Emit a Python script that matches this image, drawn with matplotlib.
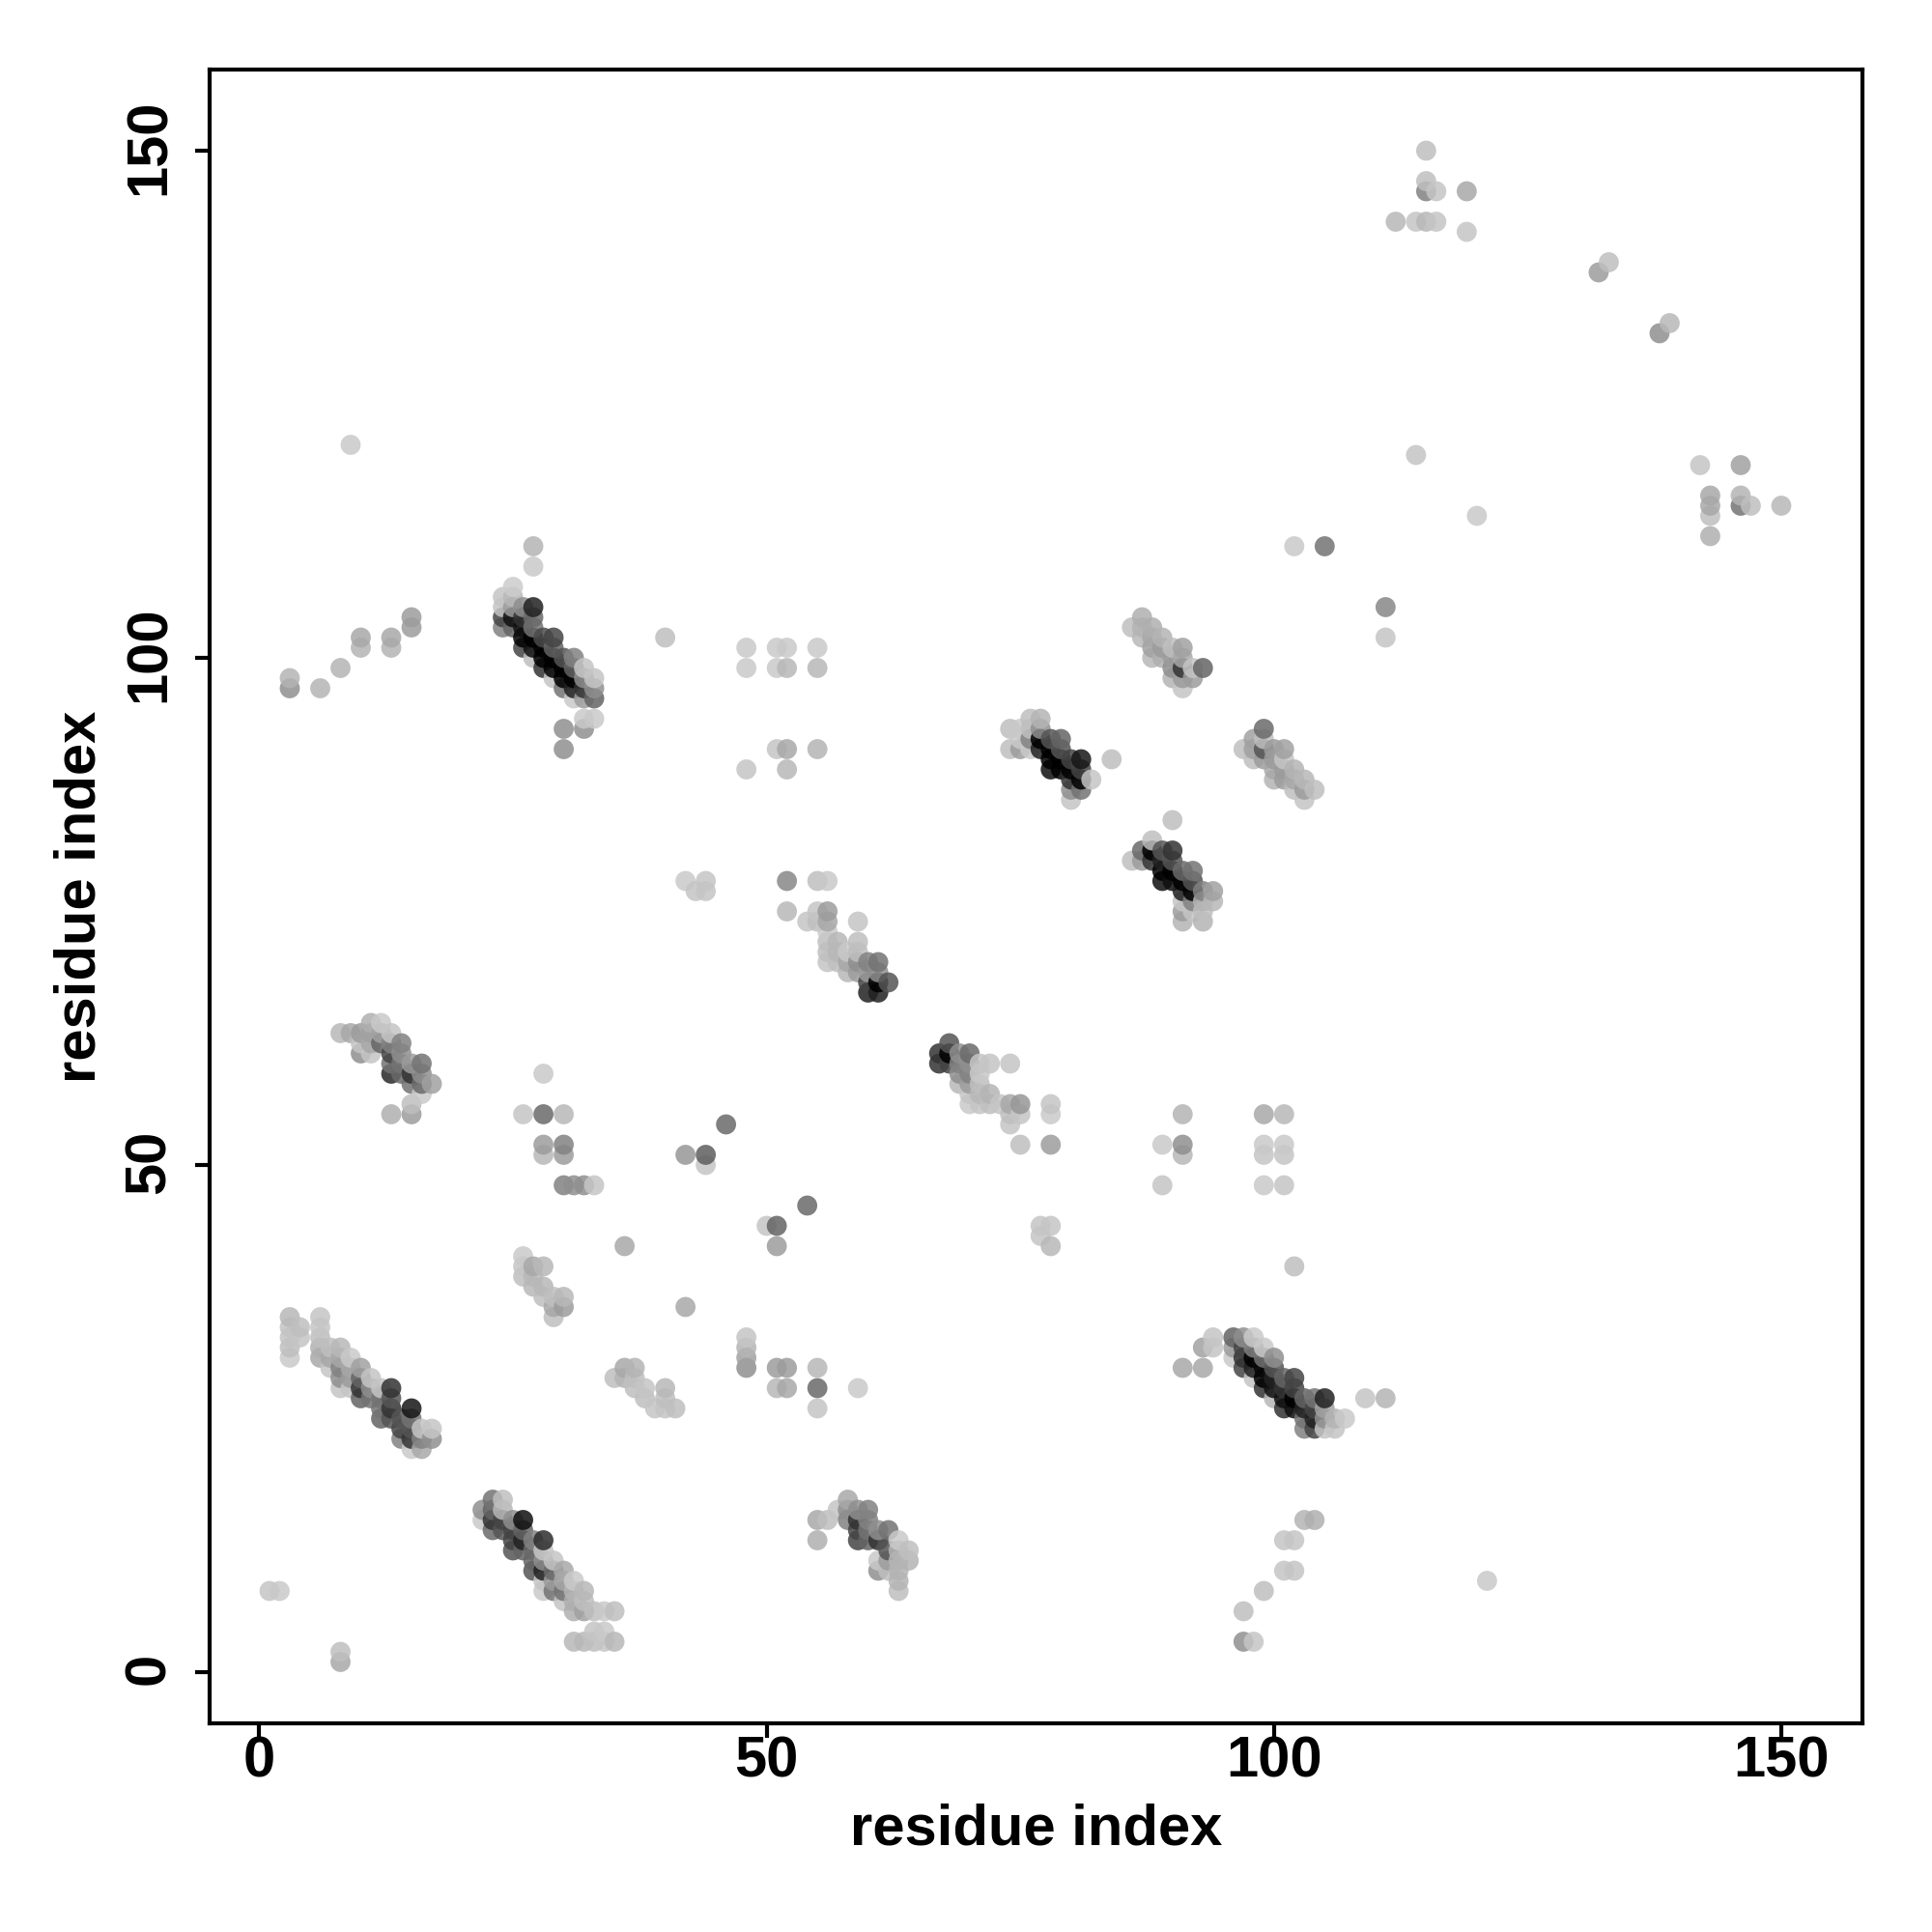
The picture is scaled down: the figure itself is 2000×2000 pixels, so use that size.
import numpy as np
import matplotlib
matplotlib.use('Agg')
import matplotlib.pyplot as plt
from matplotlib.transforms import ScaledTranslation

plt.rcParams['font.family'] = ['Liberation Sans', 'DejaVu Sans']

# (residue x, [residue y ...], [brightness of each contact ...])
cluster_a = [
    (3, [31, 32, 33, 34, 35], [.8, .75, .77, .77, .72]), (4, [33, 34], [.78, .75]),
    (6, [31, 32, 33, 34, 35], [.65, .68, .75, .78, .78]), (7, [30, 31, 32], [.78, .65, .75]),
    (8, [28, 29, 30, 31, 32], [.78, .55, .5, .65, .72]), (9, [28, 29, 30, 31], [.78, .6, .65, .8]),
    (10, [27, 28, 29, 30], [.4, .25, .4, .62]), (11, [27, 28, 29], [.45, .55, .78]),
    (12, [25, 26, 27, 28], [.4, .45, .45, .78]), (13, [25, 26, 27, 28], [.35, .25, .35, .25]),
    (14, [23, 24, 25], [.5, .3, .35]), (15, [22, 23, 24, 25, 26], [.8, .25, .35, .45, .17]),
    (16, [22, 23, 24], [.65, .5, .78]), (17, [23, 24], [.55, .78]),
]
cluster_b = [
    (22, [15, 16], [.8, .55]), (23, [14, 15, 16, 17], [.42, .25, .4, .45]),
    (24, [14, 15, 16, 17], [.35, .3, .72, .75]), (25, [12, 13, 14, 15], [.35, .3, .3, .55]),
    (26, [12, 13, 14, 15], [.4, .2, .4, .15]), (27, [10, 11, 12, 13], [.35, .4, .42, .5]),
    (28, [8, 9, 10, 11, 12, 13], [.8, .78, .2, .55, .78, .23]), (29, [8, 9, 10, 11], [.45, .6, .42, .78]),
    (30, [7, 8, 9, 10], [.78, .45, .65, .65]), (31, [3, 6, 7, 8, 9], [.72, .68, .68, .7, .8]),
    (32, [3, 6, 7, 8], [.72, .62, .75, .72]), (33, [3, 4, 6], [.75, .78, .75]),
    (34, [3, 4, 6], [.78, .8, .8]), (35, [3, 6], [.72, .75]),
]
cluster_c = [
    (55, [13, 15], [.68, .65]), (56, [15], [.75]), (57, [16], [.78]), (58, [15, 16, 17], [.5, .55, .65]),
    (59, [13, 14, 15, 16], [.3, .3, .25, .55]), (60, [13, 14, 15, 16], [.4, .45, .5, .5]),
    (61, [10, 11, 13, 14], [.55, .8, .25, .55]), (62, [10, 11, 12, 14], [.75, .6, .35, .45]),
    (63, [8, 9, 10, 11, 12, 13], [.75, .7, .7, .7, .7, .8]), (64, [11, 12], [.7, .75]),
]
cluster_d = [
    (96, [31, 32, 33], [.8, .6, .4]), (97, [30, 31, 32, 33], [.3, .25, .3, .55]),
    (98, [29, 30, 31, 32, 33], [.78, .2, .1, .5, .8]), (99, [28, 29, 30, 31, 32], [.25, .1, .13, .45, .8]),
    (100, [27, 28, 29, 30, 31], [.72, .15, .2, .35, .55]), (101, [26, 27, 28, 29], [.25, .15, .25, .4]),
    (102, [26, 27, 28, 29], [.15, .1, .3, .3]), (103, [24, 25, 26, 27], [.5, .45, .2, .4]),
    (104, [24, 25, 26, 27], [.3, .2, .3, .45]), (105, [24, 25, 26, 27], [.78, .55, .62, .2]),
    (106, [24, 25], [.78, .7]), (107, [25], [.8]),
]
cluster_e = [
    (24, [103, 104, 105, 106], [.5, .3, .78, .78]), (25, [103, 104, 105, 106, 107], [.4, .15, .6, .72, .82]),
    (26, [101, 102, 103, 104, 105], [.3, .1, .15, .25, .55]), (27, [100, 101, 102, 103, 104, 105], [.75, .15, .1, .45, .42, .2]),
    (28, [99, 100, 101, 102], [.25, .08, .1, .32]), (29, [98, 99, 100, 101, 102], [.78, .1, .08, .4, .3]),
    (30, [97, 98, 99, 100], [.45, .1, .1, .35]), (31, [96, 97, 98, 99, 100], [.8, .2, .08, .4, .5]),
    (32, [96, 97, 98, 99], [.6, .25, .55, .78]), (33, [96, 97, 98], [.4, .55, .78]),
]
cluster_f = [
    (74, [91, 93], [.75, .75]), (75, [91, 92, 93], [.6, .8, .8]), (76, [91, 92, 93, 94], [.8, .5, .75, .75]),
    (77, [91, 92, 93, 94], [.2, .1, .55, .7]), (78, [89, 90, 91, 92], [.15, .1, .08, .35]),
    (79, [89, 90, 91, 92], [.1, .05, .35, .4]), (80, [86, 87, 88, 89, 90], [.78, .55, .25, .1, .3]),
    (81, [87, 88, 89, 90], [.45, .1, .3, .17]), (82, [88], [.78]),
]
cluster_g = [
    (86, [80], [.75]), (87, [80, 81], [.6, .42]), (88, [80, 81, 82], [.25, .1, .75]),
    (89, [78, 79, 80, 81], [.15, .1, .2, .35]), (90, [78, 79, 80, 81], [.15, .05, .35, .25]),
    (91, [74, 75, 76, 77, 78, 79], [.7, .6, .78, .2, .1, .42]), (92, [75, 76, 77, 78, 79], [.78, .5, .1, .35, .45]),
    (93, [74, 75, 76, 77], [.7, .75, .7, .5]), (94, [76, 77], [.72, .62]),
]
cluster_h = [
    (86, [103], [.75]), (87, [102, 103, 104], [.72, .7, .68]), (88, [100, 101, 102, 103], [.72, .62, .65, .68]),
    (89, [100, 101, 102], [.68, .6, .7]), (90, [98, 99, 100, 101], [.7, .55, .6, .75]),
    (91, [97, 98, 99, 100, 101], [.78, .6, .25, .65, .62]), (92, [98, 99], [.6, .78]), (93, [99], [.4]),
]
cluster_i = [
    (97, [91], [.75]), (98, [90, 91, 92], [.75, .62, .62]), (99, [90, 91, 92, 93], [.6, .35, .75, .42]),
    (100, [88, 89, 90, 91], [.7, .65, .6, .6]), (101, [88, 89, 90, 91], [.6, .6, .78, .62]),
    (102, [87, 88, 89], [.75, .65, .7]), (103, [86, 87, 88], [.78, .6, .72]), (104, [87], [.75]),
]
cluster_j = [
    (54, [74], [.78]), (55, [74, 75], [.75, .78]), (56, [70, 71, 72, 73, 74, 75], [.78, .75, .75, .8, .65, .6]),
    (57, [70, 71, 72], [.75, .72, .72]), (58, [69, 70, 71], [.72, .65, .8]),
    (59, [69, 70, 71, 72, 74], [.6, .55, .75, .75, .78]), (60, [67, 68, 69, 70], [.2, .3, .6, .5]),
    (61, [67, 68, 69, 70], [.2, .05, .55, .45]), (62, [68], [.35]),
]
cluster_k = [
    (67, [60, 61], [.25, .25]), (68, [60, 61, 62], [.3, .05, .35]), (69, [58, 59, 60, 61], [.72, .55, .5, .55]),
    (70, [56, 57, 58, 59, 60, 61], [.8, .78, .6, .5, .55, .42]), (71, [56, 57, 58, 59, 60], [.78, .72, .75, .8, .78]),
    (72, [56, 57, 60], [.75, .7, .78]), (73, [56], [.78]), (74, [54, 55, 56, 60], [.78, .75, .65, .78]),
    (75, [55, 56], [.78, .58]),
]
cluster_l = [
    (8, [63], [.72]), (9, [63], [.65]), (10, [61, 62, 63], [.55, .78, .6]), (11, [61, 62, 63, 64], [.78, .65, .62, .68]),
    (12, [62, 63, 64], [.4, .62, .8]), (13, [55, 59, 60, 61, 62, 63], [.68, .22, .45, .3, .5, .78]),
    (14, [59, 60, 61, 62], [.42, .45, .55, .5]), (15, [55, 56, 58, 59, 60], [.6, .75, .45, .25, .6]),
    (16, [57, 58, 59, 60], [.8, .42, .55, .45]), (17, [58], [.62]),
]
cluster_m = [
    (26, [39, 40, 41], [.75, .78, .8]), (27, [38, 39, 40], [.72, .72, .65]), (28, [37, 38, 40], [.75, .72, .72]),
    (29, [35, 36, 37], [.75, .65, .75]), (30, [36, 37], [.6, .72]),
    (35, [29], [.75]), (36, [29, 30], [.7, .65]), (37, [28, 29, 30], [.75, .75, .7]),
    (38, [27, 28], [.75, .78]), (39, [26], [.78]), (40, [26, 27, 28], [.78, .75, .72]), (41, [26], [.75]),
]
sparse_x = [9, 115, 115, 115, 116, 119, 112, 114, 115, 116, 119, 132, 133, 138, 139, 114, 120, 142, 146, 143, 143, 143, 143,
            146, 146, 147, 150, 102, 105, 111, 111, 27, 27, 40, 3, 3, 6, 8, 10, 10, 13, 13, 15, 15]
sparse_y = [121, 150, 147, 146, 146, 146, 143, 143, 143, 143, 142, 138, 139, 132, 133, 120, 114, 119, 119, 116, 115, 114, 112,
            116, 115, 115, 115, 111, 111, 105, 102, 111, 109, 102, 98, 97, 97, 99, 102, 101, 102, 101, 104, 103]
sparse_v = [.8, .75, .75, .5, .78, .65, .72, .78, .72, .78, .78, .6, .75, .55, .72, .78, .8, .78, .62, .65, .65, .75, .68,
            .7, .45, .75, .72, .8, .45, .52, .78, .7, .8, .75, .7, .55, .7, .7, .65, .7, .65, .7, .6, .6]
upper_x = [48, 48, 51, 52, 51, 52, 55, 55, 51, 52, 55, 48, 52, 30, 30, 32, 32, 33, 84, 90, 42, 43, 44, 44, 52, 55, 56, 52]
upper_y = [101, 99, 101, 101, 99, 99, 101, 99, 91, 91, 91, 89, 89, 93, 91, 93, 94, 94, 90, 84, 78, 77, 77, 78, 78, 78, 78, 75]
upper_v = [.8, .8, .8, .8, .8, .72, .8, .72, .78, .65, .7, .78, .72, .55, .55, .55, .8, .8, .75, .75, .8, .78, .78, .78, .52, .75, .8, .72]
middle_x = [26, 28, 30, 28, 28, 28, 30, 30, 30, 31, 32, 33, 46, 42, 44, 44, 50, 51, 54, 51, 36, 42, 77, 78, 77, 78, 75, 78, 78, 78,
            89, 89, 91, 91, 91, 99, 101, 99, 99, 101, 101, 99, 101, 102]
middle_y = [55, 55, 55, 59, 52, 51, 52, 51, 48, 48, 48, 48, 54, 51, 51, 50, 44, 44, 46, 42, 42, 36, 44, 44, 43, 42, 52, 52, 56, 55,
            48, 52, 52, 55, 51, 55, 55, 52, 51, 52, 51, 48, 48, 40]
middle_v = [.78, .42, .72, .8, .6, .72, .5, .6, .5, .55, .55, .78, .42, .58, .38, .78, .78, .4, .42, .6, .65, .65, .78, .78, .78, .72, .75, .6, .78, .8,
            .78, .8, .55, .7, .72, .65, .72, .8, .78, .8, .78, .8, .78, .75]
lower_x = [48, 48, 48, 48, 51, 52, 55, 51, 52, 55, 55, 59, 91, 93, 93, 94, 94, 109, 111, 121, 97, 99, 101, 102, 101, 102, 103, 104,
           97, 98, 1, 2, 8, 8]
lower_y = [33, 32, 31, 30, 30, 30, 30, 28, 28, 28, 26, 28, 30, 30, 32, 32, 33, 27, 27, 9, 6, 8, 10, 10, 13, 13, 15, 15,
           3, 3, 8, 8, 2, 1]
lower_v = [.78, .7, .62, .55, .6, .6, .72, .72, .65, .42, .78, .8, .65, .65, .62, .78, .78, .78, .7, .8, .75, .75, .78, .78, .78, .78, .7, .68,
           .55, .78, .78, .8, .75, .65]

clusters = [cluster_a, cluster_b, cluster_c, cluster_d, cluster_e, cluster_f, cluster_g,
            cluster_h, cluster_i, cluster_j, cluster_k, cluster_l, cluster_m]

xs, ys, vs = [], [], []
for cl in clusters:
    for col_x, col_y, col_v in cl:
        xs += [col_x] * len(col_y)
        ys += col_y
        vs += col_v
for ax_, ay_, av_ in [(sparse_x, sparse_y, sparse_v), (upper_x, upper_y, upper_v),
                      (middle_x, middle_y, middle_v), (lower_x, lower_y, lower_v)]:
    xs += ax_
    ys += ay_
    vs += av_
xs, ys, vs = np.array(xs), np.array(ys), np.array(vs)

# plotted by x then y so the top of each column sits on top
order = np.lexsort((ys, xs))
alpha = 0.85
# mid greys were read a bit dark, lift them
shown = vs[order] + 0.47 * vs[order] * (0.85 - vs[order])
grey = np.clip((shown - (1 - alpha)) / alpha, 0, 1)
colors = np.zeros((len(order), 4))
colors[:, 0] = colors[:, 1] = colors[:, 2] = grey
colors[:, 3] = alpha

fig = plt.figure(figsize=(10, 10), dpi=200)
ax = fig.add_axes([217 / 2000, 1 - 1784 / 2000, 1711 / 2000, 1712 / 2000])
ax.scatter(xs[order], ys[order], s=56, c=colors, linewidths=0)
ax.set_xlim(-4.9, 158)
ax.set_ylim(-5.05, 158)
ax.set_xticks([0, 50, 100, 150])
ax.set_yticks([0, 50, 100, 150])
ax.tick_params(length=5.5, width=1.5, labelsize=21.5)
ax.tick_params(axis='x', pad=-1)
ax.tick_params(axis='y', pad=7)
for lab in ax.get_xticklabels() + ax.get_yticklabels():
    lab.set_fontweight('bold')
nudge = ScaledTranslation(0, 3.5 / 200, fig.dpi_scale_trans)
for lab in ax.get_yticklabels():
    lab.set_rotation(90)
    lab.set_va('center')
    lab.set_transform(lab.get_transform() + nudge)
for sp in ax.spines.values():
    sp.set_linewidth(1.5)
ax.set_xlabel('residue index', fontsize=21.5, fontweight='bold', labelpad=5.5)
ax.set_ylabel('residue index', fontsize=21.5, fontweight='bold', labelpad=6)
fig.savefig('out.png', dpi=200)
